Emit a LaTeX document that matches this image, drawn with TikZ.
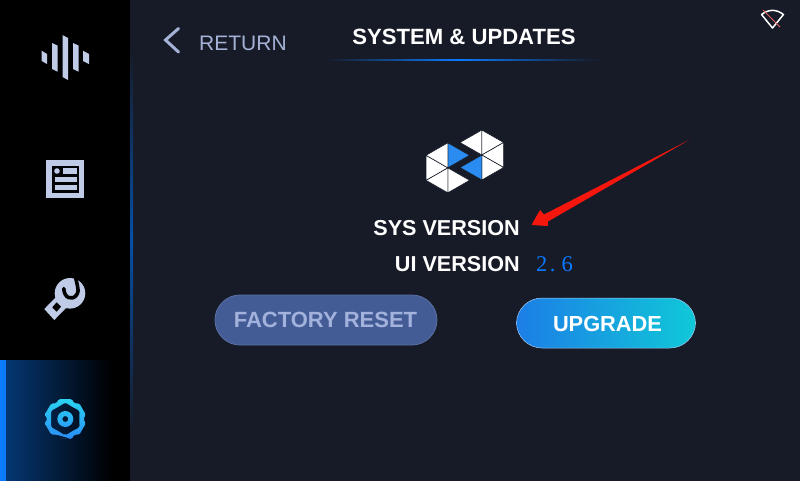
\documentclass[tikz,border=0pt]{standalone}
\usepackage{fontspec}
\setmainfont{Liberation Sans}
\newfontfamily\serifnum{Liberation Serif}
\usetikzlibrary{calc}
\definecolor{bgc}{HTML}{161B27}
\definecolor{iconc}{HTML}{C0CBE8}
\definecolor{retc}{HTML}{A5B2D6}
\definecolor{blu}{HTML}{0A7BFF}
\definecolor{facbg}{HTML}{445C96}
\definecolor{facedge}{HTML}{5A6FA3}
\definecolor{factx}{HTML}{A3B2DC}
\definecolor{upl}{HTML}{1C7EE6}
\definecolor{upr}{HTML}{10C8D8}
\definecolor{logob}{HTML}{2A8CF0}
\definecolor{arrowr}{HTML}{F5170E}
\definecolor{geart}{HTML}{2AD4F0}
\definecolor{gearb}{HTML}{2A8CF8}
\definecolor{slash}{HTML}{E06060}
\tikzset{
 lbl/.style={font=\bfseries\fontsize{21.6}{24}\selectfont,text=white,inner sep=0pt},
 icon/.style={fill=iconc,draw=none},
 tri/.style={fill=white,draw=bgc,line width=0.6pt,line join=round},
 trib/.style={fill=logob,draw=bgc,line width=0.6pt,line join=round}
}
\begin{document}
\begin{tikzpicture}[x=1pt,y=-1pt]
\useasboundingbox (0,0) rectangle (800,480);
\fill[bgc] (-2,-2) rectangle (802,483);
\fill[black] (-2,-2) rectangle (130,483);
% divider
\shade[top color=bgc,bottom color=blu!65!black] (130,50) rectangle (133,240);
\shade[top color=blu!65!black,bottom color=bgc] (130,240) rectangle (133,430);
% selected tab
\shade[left color=blu!45!black,right color=black] (6,360) rectangle (112,483);
\fill[blu] (-2,360) rectangle (6,483);
% icon 1
\fill[icon] (41.7,50.7)--(47,54)--(47,64)--(41.7,61)--cycle;
\fill[icon] (52,43)--(57.5,45.5)--(57.5,71.7)--(52,69)--cycle;
\fill[icon] (62.5,35)--(68,38)--(68,80)--(62.5,77)--cycle;
\fill[icon] (73,43)--(78.5,45.5)--(78.5,71.7)--(73,69)--cycle;
\fill[icon] (83,50.7)--(89,54)--(89,64)--(83,61)--cycle;
% icon 2
\fill[icon] (46.3,160) rectangle (84,197.7);
\fill[black!90!bgc] (51.7,165.7) rectangle (79,192.7);
\fill[icon] (57,171) circle (2.8);
\fill[icon] (62.5,168) rectangle (76.5,174);
\fill[icon] (54.5,177) rectangle (76.5,181.5);
\fill[icon] (54.5,184.5) rectangle (76.5,190);
% icon 3: wrench
\fill[icon] (70,293.3) circle (15.3);
\fill[icon] (44.3,309)--(54.3,320)--(66,308)--(56,297)--cycle;
\draw[black,line width=3.6pt,line cap=round,line join=round] (63.8,288.5) .. controls (64,298) and (72,301) .. (76.5,295) .. controls (78.5,292) and (78.5,289) .. (77.5,286) -- (75.5,277);
\fill[black] (52.3,307.3)--(56.7,311.7)--(61,306.7)--(56.7,302.3)--cycle;
% icon 4: gear
\begin{scope}[shift={(65.3,419)}]
\shade[even odd rule,top color=geart,bottom color=gearb,rounded corners=1.5pt]
  (72:21)
  \foreach \a in {90,30,-30,-90,-150,-210}{
    -- ({\a+18}:21) -- ({\a-18}:21) -- ({\a-30}:18)
  } -- cycle
  (90:16.5)
  \foreach \a in {30,-30,-90,-150,-210,90}{
    -- ({\a+30}:14) -- (\a:16.5)
  } -- cycle
  (0,0) circle (8) (0,0) circle (3);
\end{scope}
% nav text
\draw[retc,line width=3pt,line cap=round,line join=miter] (178.5,28.5)--(165.5,40)--(178.5,52);
\node[font=\fontsize{21}{24}\selectfont,text=retc,anchor=base west,inner sep=0pt] (ret) at (199,50) {RETURN};
\node[font=\bfseries\fontsize{22.1}{24}\selectfont,text=white,inner sep=0pt,anchor=base] (title) at (464,44) {SYSTEM \& UPDATES};
\shade[left color=bgc,right color=blu] (325,59.2) rectangle (458,60.8);
\shade[left color=blu,right color=bgc] (458,59.2) rectangle (600,60.8);
% wifi
\draw[white,line width=1.5pt,line join=round] (761.5,14.5)--(772.5,28)--(783.5,14.5) .. controls (776,9) and (769,9) .. cycle;
\draw[slash,line width=1pt] (763,10)--(780,27);
% logo right hexagon
\begin{scope}[shift={(481.8,155)}]
\coordinate (rc) at (0,0);
\coordinate (r1) at (0,-25);
\coordinate (r2) at (21.8,-12.5);
\coordinate (r3) at (21.8,12.5);
\coordinate (r4) at (0,25);
\coordinate (r5) at (-21.8,12.5);
\coordinate (r6) at (-21.8,-12.5);
\end{scope}
\draw[tri] (rc)--(r6)--(r1)--cycle;
\draw[tri] (rc)--(r1)--(r2)--cycle;
\draw[tri] (rc)--(r2)--(r3)--cycle;
\draw[tri] (rc)--(r3)--(r4)--cycle;
\draw[trib] (rc)--(r4)--(r5)--cycle;
% logo left hexagon
\begin{scope}[shift={(447.8,167.8)}]
\coordinate (lc) at (0,0);
\coordinate (l1) at (0,-25);
\coordinate (l2) at (21.8,-12.5);
\coordinate (l3) at (21.8,12.5);
\coordinate (l4) at (0,25);
\coordinate (l5) at (-21.8,12.5);
\coordinate (l6) at (-21.8,-12.5);
\end{scope}
\draw[trib] (lc)--(l1)--(l2)--cycle;
\draw[tri] (lc)--(l3)--(l4)--cycle;
\draw[tri] (lc)--(l4)--(l5)--cycle;
\draw[tri] (lc)--(l5)--(l6)--cycle;
\draw[tri] (lc)--(l6)--(l1)--cycle;
% labels
\node[lbl,anchor=base east] (sys) at (520,235) {SYS VERSION};
\node[lbl,anchor=base east] (ui) at (520,271.5) {UI VERSION};
\node[font=\serifnum\fontsize{22.5}{24}\selectfont,text=blu,anchor=base west,inner sep=0pt] (ver) at (536,271.5) {2\kern2.5pt.\kern6pt 6};
% buttons
\draw[facedge,fill=facbg,line width=0.8pt,rounded corners=25pt] (215,295) rectangle (437,345);
\node[font=\bfseries\fontsize{22}{24}\selectfont,text=factx,inner sep=0pt] (fac) at (325.5,320) {FACTORY RESET};
\shade[left color=upl,right color=upr,rounded corners=25.5pt,draw=white!60!upl,line width=0.5pt] (516.5,298) rectangle (695.5,348);
\node[font=\bfseries\fontsize{21.8}{24}\selectfont,text=white,inner sep=0pt] (up) at (607.5,323.5) {UPGRADE};
% arrow
\fill[arrowr] (689,140)--(548,221.5)--(547.7,226)--(531.5,225)--(540,210)--(544,214.5)--cycle;
\end{tikzpicture}
\end{document}
